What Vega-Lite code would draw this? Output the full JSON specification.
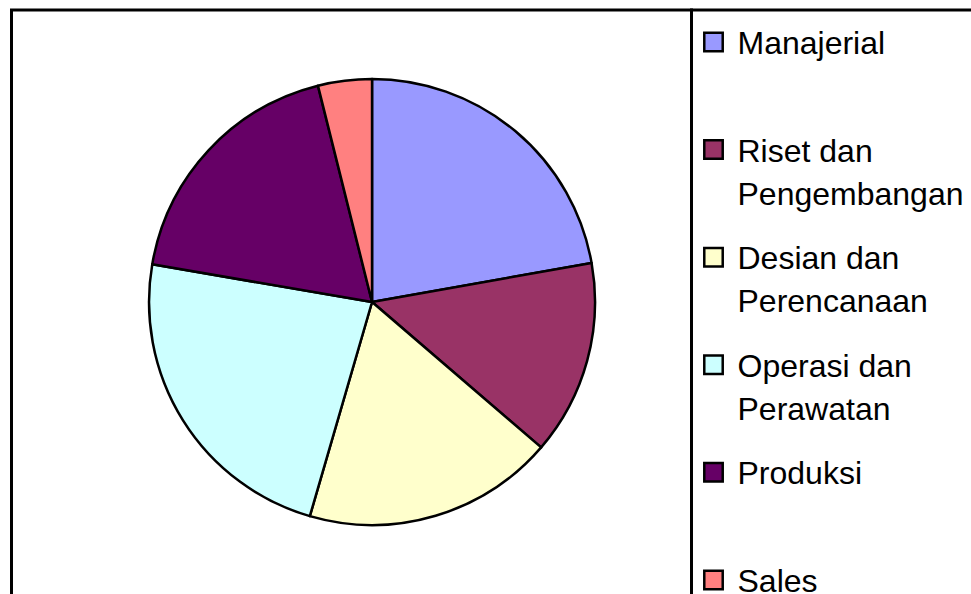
{
  "$schema": "https://vega.github.io/schema/vega-lite/v6.json",
  "padding": {"left": 9.5, "top": 8, "right": 0, "bottom": 0},
  "background": "white",
  "spacing": 0,
  "bounds": "flush",
  "config": {
    "view": {"stroke": "black", "strokeWidth": 3},
    "font": "Liberation Sans"
  },
  "data": {
    "values": [
      {"kategori": "Manajerial", "label": "Manajerial", "persen": 22.2, "urut": 0},
      {"kategori": "Riset dan Pengembangan", "label": "Riset dan\nPengembangan", "persen": 14.1, "urut": 1},
      {"kategori": "Desian dan Perencanaan", "label": "Desian dan\nPerencanaan", "persen": 18.2, "urut": 2},
      {"kategori": "Operasi dan Perawatan", "label": "Operasi dan\nPerawatan", "persen": 23.2, "urut": 3},
      {"kategori": "Produksi", "label": "Produksi", "persen": 18.4, "urut": 4},
      {"kategori": "Sales", "label": "Sales", "persen": 3.9, "urut": 5}
    ]
  },
  "hconcat": [
    {
      "width": 680,
      "height": 588,
      "mark": {"type": "arc", "radius": 223, "stroke": "black", "strokeWidth": 2.5, "strokeJoin": "round"},
      "encoding": {
        "theta": {"field": "persen", "type": "quantitative", "stack": true},
        "order": {"field": "urut", "type": "quantitative"},
        "x": {"datum": 0.5302, "type": "quantitative", "scale": {"domain": [0, 1]}, "axis": null},
        "y": {"datum": 0.4966, "type": "quantitative", "scale": {"domain": [0, 1], "reverse": true}, "axis": null},
        "color": {
          "field": "kategori",
          "type": "nominal",
          "scale": {
            "domain": ["Manajerial", "Riset dan Pengembangan", "Desian dan Perencanaan", "Operasi dan Perawatan", "Produksi", "Sales"],
            "range": ["#9999FF", "#993366", "#FFFFCC", "#CCFFFF", "#660066", "#FF8080"]
          },
          "legend": null
        }
      }
    },
    {
      "width": 300,
      "height": 588,
      "layer": [
        {
          "mark": {"type": "point", "shape": "square", "size": 340, "filled": true, "stroke": "black", "strokeWidth": 2.5, "opacity": 1},
          "encoding": {
            "x": {"datum": 0, "type": "quantitative", "scale": {"domain": [-22, 278]}, "axis": null},
            "y": {"field": "urut", "type": "quantitative", "scale": {"domain": [-0.2974, 5.168], "reverse": true}, "axis": null},
            "color": {
              "field": "kategori",
              "type": "nominal",
              "scale": {
                "domain": ["Manajerial", "Riset dan Pengembangan", "Desian dan Perencanaan", "Operasi dan Perawatan", "Produksi", "Sales"],
                "range": ["#9999FF", "#993366", "#FFFFCC", "#CCFFFF", "#660066", "#FF8080"]
              },
              "legend": null
            }
          }
        },
        {
          "mark": {"type": "text", "align": "left", "baseline": "alphabetic", "dy": 12, "fontSize": 32, "lineHeight": 43, "lineBreak": "\n", "color": "black"},
          "encoding": {
            "x": {"datum": 24, "type": "quantitative", "scale": {"domain": [-22, 278]}, "axis": null},
            "y": {"field": "urut", "type": "quantitative", "scale": {"domain": [-0.2974, 5.168], "reverse": true}, "axis": null},
            "text": {"field": "label", "type": "nominal"}
          }
        }
      ]
    }
  ]
}
